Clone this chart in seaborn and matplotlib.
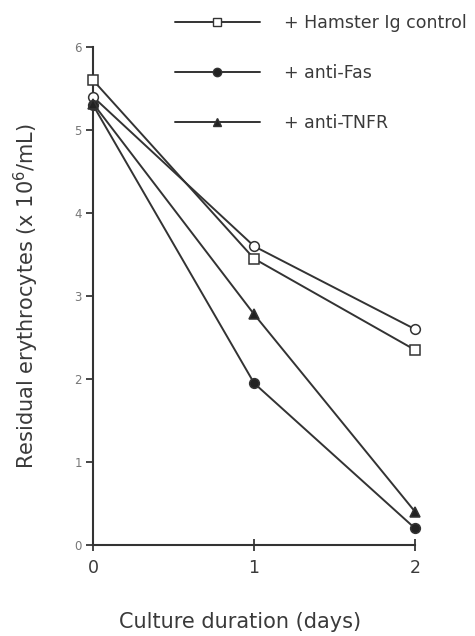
import matplotlib
matplotlib.use("Agg")
import matplotlib.pyplot as plt
from matplotlib.lines import Line2D
import seaborn as sns
import pandas as pd

sns.set_style("ticks")
plt.rcParams['font.family'] = ['DejaVu Sans']

days = [0, 1, 2]
hamster_ctrl = [5.6, 3.45, 2.35]
extra_ctrl = [5.4, 3.6, 2.6]
anti_fas = [5.3, 1.95, 0.2]
anti_tnfr = [5.32, 2.78, 0.4]
y_ticks = [0, 1, 2, 3, 4, 5, 6]
x_ticks = [0, 1, 2]

series = [
    ("+ Hamster Ig control", hamster_ctrl, "s", "white", True),
    ("control 2", extra_ctrl, "o", "white", False),
    ("+ anti-Fas", anti_fas, "o", "#222222", True),
    ("+ anti-TNFR", anti_tnfr, "^", "#222222", True),
]

fig = plt.figure(figsize=(4.75, 6.36), dpi=100)
ax = fig.add_axes([0.196, 0.143, 0.678, 0.783])

lc = "#333333"
tc = "#3a3a3a"
handles = []
for name, vals, mk, fc, inleg in series:
    df = pd.DataFrame({"day": days, "val": vals})
    sns.lineplot(data=df, x="day", y="val", ax=ax, color=lc, lw=1.4,
                 marker=mk, markersize=7 if mk != "^" else 7.5,
                 markerfacecolor=fc, markeredgecolor=lc, markeredgewidth=1.1,
                 legend=False, clip_on=False, zorder=3)
    if inleg:
        handles.append(Line2D([0], [0], color=lc, lw=1.4, marker=mk,
                              markersize=6, markerfacecolor=fc,
                              markeredgecolor=lc, label=name))

ax.set_xlim(0, 2)
ax.set_ylim(0, 6)
ax.set_xticks(x_ticks)
ax.set_yticks(y_ticks)
ax.set_xticklabels([str(t) for t in x_ticks], fontsize=12.5, color=tc)
ax.set_yticklabels([str(t) for t in y_ticks], fontsize=8.5, color="#777777")
ax.tick_params(axis="x", direction="inout", length=8, width=1.2, pad=6)
ax.tick_params(axis="y", direction="out", length=5, width=1.2, pad=3)
for s in ["top", "right"]:
    ax.spines[s].set_visible(False)
for s in ["left", "bottom"]:
    ax.spines[s].set_color("#333333")
    ax.spines[s].set_linewidth(1.5)

ax.set_xlabel("Culture duration (days)", fontsize=15, color=tc, labelpad=25)
ax.xaxis.set_label_coords(0.455, -0.135)
ax.set_ylabel("Residual erythrocytes (x 10$^6$/mL)", fontsize=15, color=tc, labelpad=24)

fig.legend(handles=handles, loc="upper left", bbox_to_anchor=(0.368, 0.978),
           frameon=False, fontsize=12.5, handlelength=4.9, handletextpad=1.4,
           labelspacing=1.85, borderpad=0, borderaxespad=0, labelcolor=tc)

fig.savefig("out.png", dpi=100)
